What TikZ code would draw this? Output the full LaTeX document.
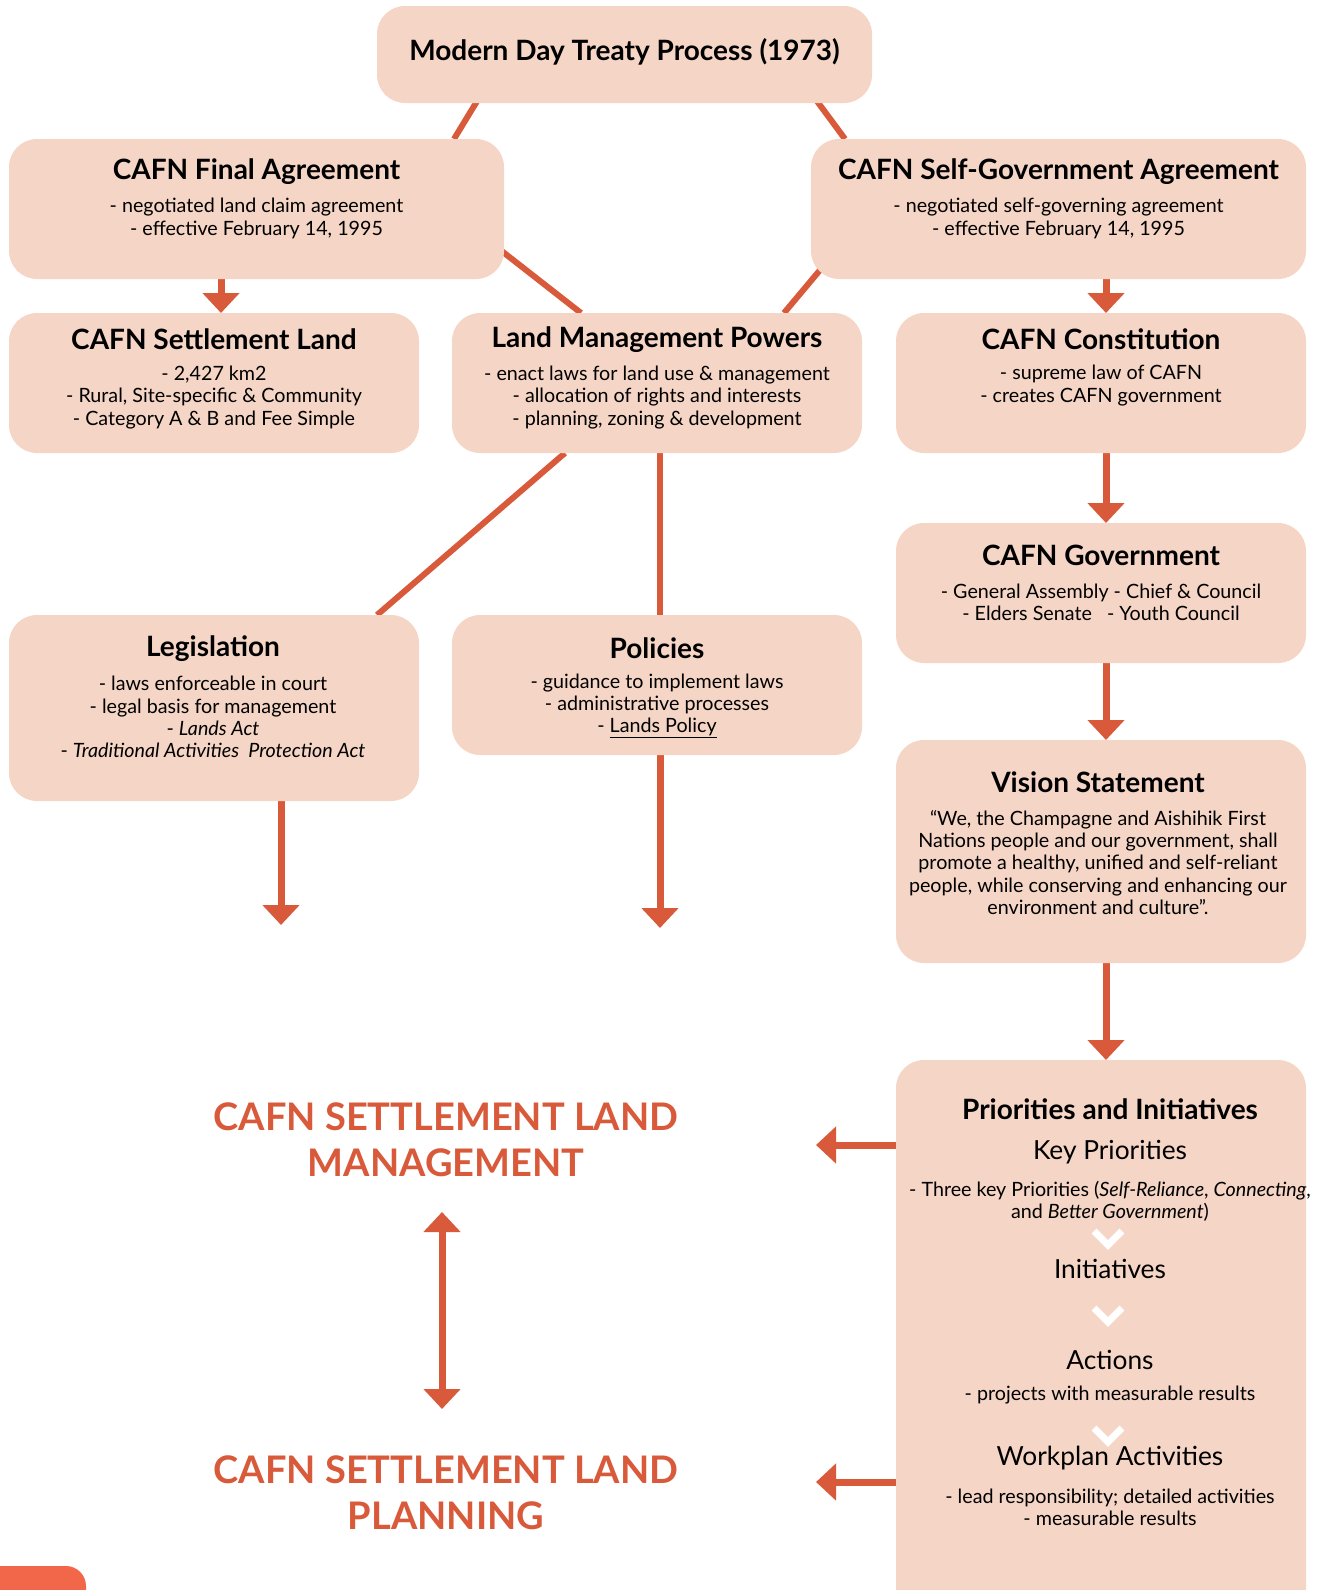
\documentclass[tikz,border=0pt]{standalone}
\usepackage{fontspec}
\setmainfont{Lato}
\usetikzlibrary{arrows.meta,calc,backgrounds}
\definecolor{peach}{HTML}{F5D5C5}
\definecolor{rust}{HTML}{D85A3A}
\definecolor{tabc}{HTML}{F26649}
\begin{document}
\begin{tikzpicture}[x=1pt,y=-1pt,
  box/.style={fill=peach, rounded corners=28pt, inner sep=0pt, outer sep=0pt},
  ttl/.style={font=\fontsize{28}{32}\selectfont\bfseries, inner sep=0pt, yshift=-2.5pt},
  bd/.style={font=\fontsize{19.7}{22.3}\selectfont, align=center, inner sep=0pt, yshift=-1.5pt},
  subt/.style={font=\fontsize{26.3}{30}\selectfont, inner sep=0pt, yshift=-1.5pt},
  big/.style={font=\fontsize{38}{46}\selectfont\bfseries, text=rust, align=center, inner sep=0pt},
  conn/.style={draw=rust, line width=6pt},
  arr/.style={draw=rust, line width=7pt, -{Triangle[width=36pt,length=20pt]}},
  darr/.style={draw=rust, line width=7pt, {Triangle[width=36pt,length=20pt]}-{Triangle[width=36pt,length=20pt]}},
  chev/.style={draw=white, line width=7pt}
]
\useasboundingbox (0,0) rectangle (1318,1590);
\clip (0,0) rectangle (1318,1590);

% boxes
\node[box, minimum width=495pt, minimum height=97pt] (top) at (624.5,54.5) {};
\node[box, minimum width=495pt, minimum height=140pt] (fa) at (256.5,209) {};
\node[box, minimum width=495pt, minimum height=140pt] (sg) at (1058.5,209) {};
\node[box, minimum width=410pt, minimum height=140pt] (sl) at (214,383) {};
\node[box, minimum width=410pt, minimum height=140pt] (lmp) at (657,383) {};
\node[box, minimum width=410pt, minimum height=140pt] (con) at (1101,383) {};
\node[box, minimum width=410pt, minimum height=140pt] (gov) at (1101,593) {};
\node[box, minimum width=410pt, minimum height=186pt] (leg) at (214,708) {};
\node[box, minimum width=410pt, minimum height=140pt] (pol) at (657,685) {};
\node[box, minimum width=410pt, minimum height=223pt] (vis) at (1101,851.5) {};
\node[box, minimum width=410pt, minimum height=600pt] (pri) at (1101,1360) {};

% texts
\node[ttl] (topt) at (624.5,49) {Modern Day Treaty Process (1973)};
\node[ttl] (fat) at (256.5,169) {CAFN Final Agreement};
\node[bd] (fab) at (256.5,217) {- negotiated land claim agreement\\- effective February 14, 1995};
\node[ttl] (sgt) at (1058.5,169) {CAFN Self-Government Agreement};
\node[bd] (sgb) at (1058.5,217) {- negotiated self-governing agreement\\- effective February 14, 1995};
\node[ttl] (slt) at (214,337) {CAFN Settlement Land};
\node[bd] (slb) at (214,396) {- 2,427 km2\\- Rural, Site-specific \& Community\\- Category A \& B and Fee Simple};
\node[ttl] (lmpt) at (657,337) {Land Management Powers};
\node[bd] (lmpb) at (657,396) {- enact laws for land use \& management\\- allocation of rights and interests\\- planning, zoning \& development};
\node[ttl] (cont) at (1101,337) {CAFN Constitution};
\node[bd] (conb) at (1101,384) {- supreme law of CAFN\\- creates CAFN government};
\node[ttl] (govt) at (1101,553) {CAFN Government};
\node[bd] (govb) at (1101,600.5) {- General Assembly - Chief \& Council\\- Elders Senate \ \ - Youth Council};
\node[ttl] (legt) at (213,646) {Legislation};
\node[bd] (legb) at (213,715.5) {- laws enforceable in court\\- legal basis for management\\- \textit{Lands Act}\\- \textit{Traditional Activities\ \ Protection Act}};
\node[ttl] (polt) at (657,646) {Policies};
\node[bd] (polb) at (657,704.5) {- guidance to implement laws\\- administrative processes\\- \underline{Lands Policy}};
\node[ttl] (vist) at (1098,780) {Vision Statement};
\node[bd] (visb) at (1098,861) {“We, the Champagne and Aishihik First\\Nations people and our government, shall\\promote a healthy, unified and self-reliant\\people, while conserving and enhancing our\\environment and culture”.};
\node[ttl] (prit) at (1110,1107) {Priorities and Initiatives};
\node[subt] (kp) at (1110,1151) {Key Priorities};
\node[bd] (kpb) at (1110,1199.5) {- Three key Priorities (\textit{Self-Reliance}, \textit{Connecting},\\and \textit{Better Government})};
\node[subt] (ini) at (1110,1267) {Initiatives};
\node[subt] (act) at (1110,1358) {Actions};
\node[bd] (actb) at (1110,1394) {- projects with measurable results};
\node[subt] (wpa) at (1110,1457) {Workplan Activities};
\node[bd] (wpab) at (1110,1505.5) {- lead responsibility; detailed activities\\- measurable results};

\node[big] (mgmt) at (446,1139.5) {CAFN SETTLEMENT LAND\\MANAGEMENT};
\node[big] (plan) at (446,1492.5) {CAFN SETTLEMENT LAND\\PLANNING};

% chevrons
\draw[chev] (1094,1231) -- (1108,1245) -- (1122,1231);
\draw[chev] (1094,1308) -- (1108,1322) -- (1122,1308);
\draw[chev] (1094,1428) -- (1108,1442) -- (1122,1428);

% page tab
\fill[tabc, rounded corners=20pt] (-40,1566) rectangle (86,1640);

% free ends
\coordinate (legend) at (281,925);
\coordinate (polend) at (660,928);
\coordinate (mgmtend) at (816,1145);
\coordinate (planend) at (816,1482);
\coordinate (dtop) at (442,1212);
\coordinate (dbot) at (442,1409);

\begin{pgfonlayer}{background}
\draw[conn] ($(top.south west)+(105,-10)$) -- ($(fa.north west)+(445,0)$);
\draw[conn] ($(top.south west)+(434,-10)$) -- ($(sg.north west)+(34,0)$);
\draw[conn] ($(fa.north east)+(-10,106)$) -- ($(lmp.north west)+(129,0)$);
\draw[conn] ($(sg.south west)+(30,-34)$) -- ($(lmp.north west)+(332,0)$);
\draw[conn] ($(lmp.south west)+(113,0)$) -- ($(leg.north west)+(368,0)$);
\draw[conn] ($(lmp.south west)+(208,0)$) -- ($(pol.north west)+(208,0)$);
\draw[arr] ($(fa.south west)+(212,-5)$) -- ($(sl.north west)+(212,0)$);
\draw[arr] ($(sg.south west)+(295,-5)$) -- ($(con.north west)+(210,0)$);
\draw[arr] ($(con.south west)+(210,-5)$) -- ($(gov.north west)+(210,0)$);
\draw[arr] ($(gov.south west)+(210,-5)$) -- ($(vis.north west)+(210,0)$);
\draw[arr] ($(vis.south west)+(210,-5)$) -- ($(pri.north west)+(210,0)$);
\draw[arr] ($(leg.south west)+(272,-5)$) -- (legend);
\draw[arr] ($(pol.south west)+(208,-5)$) -- (polend);
\draw[arr] ($(pri.north west)+(5,85)$) -- (mgmtend);
\draw[arr] ($(pri.north west)+(5,422)$) -- (planend);
\draw[darr] (dtop) -- (dbot);
\end{pgfonlayer}
\end{tikzpicture}
\end{document}
